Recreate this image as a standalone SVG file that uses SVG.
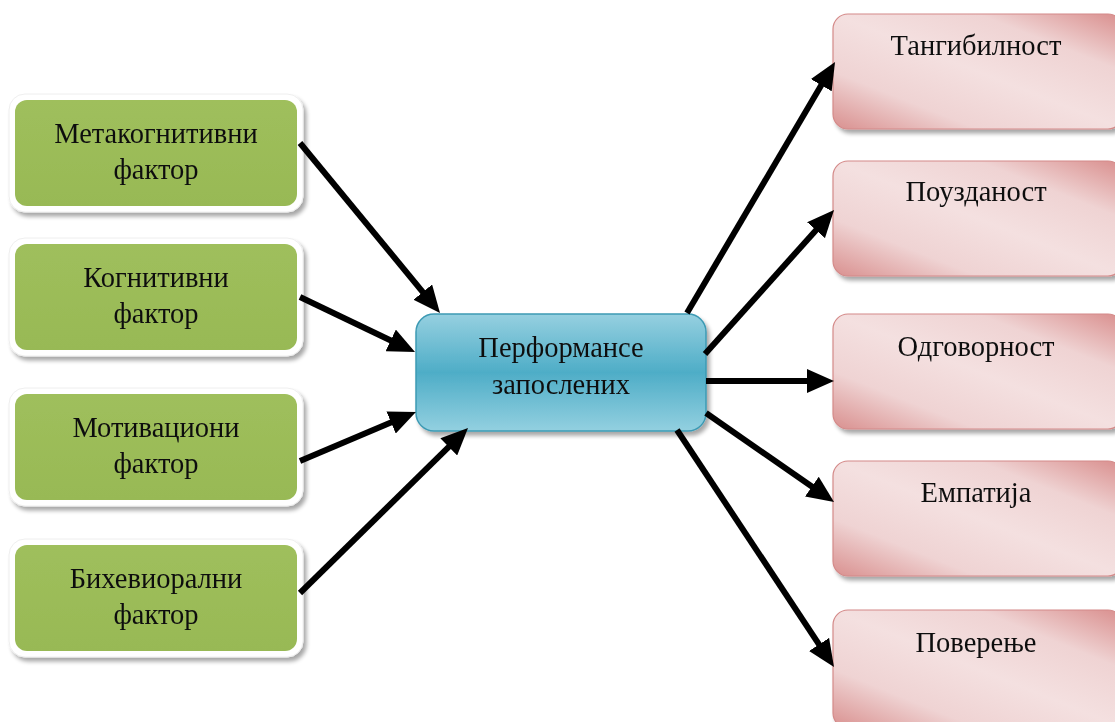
<svg xmlns="http://www.w3.org/2000/svg" width="1115" height="722" viewBox="0 0 1115 722">
  <defs>
    <linearGradient id="gGreen" x1="0" y1="0" x2="0" y2="1">
      <stop offset="0" stop-color="#9fbf5c"/>
      <stop offset="1" stop-color="#98b955"/>
    </linearGradient>
    <linearGradient id="gBlue" x1="0" y1="0" x2="0" y2="1">
      <stop offset="0" stop-color="#96d0e0"/>
      <stop offset="0.5" stop-color="#4eadc7"/>
      <stop offset="1" stop-color="#93d0e0"/>
    </linearGradient>
    <linearGradient id="gPink" x1="0" y1="1" x2="1" y2="0">
      <stop offset="0" stop-color="#d9908f"/>
      <stop offset="0.25" stop-color="#efd3d3"/>
      <stop offset="0.5" stop-color="#f4e0e0"/>
      <stop offset="0.75" stop-color="#efd3d3"/>
      <stop offset="1" stop-color="#d98e8d"/>
    </linearGradient>
    <filter id="shadow" x="-10%" y="-10%" width="125%" height="130%">
      <feGaussianBlur in="SourceAlpha" stdDeviation="2"/>
      <feOffset dx="3" dy="4" result="b"/>
      <feComponentTransfer><feFuncA type="linear" slope="0.35"/></feComponentTransfer>
      <feMerge><feMergeNode/><feMergeNode in="SourceGraphic"/></feMerge>
    </filter>
    <marker id="arrow" markerUnits="userSpaceOnUse" markerWidth="28" markerHeight="24" refX="10" refY="12" orient="auto">
      <path d="M0,0 L27,12 L0,24 z" fill="#000"/>
    </marker>
  </defs>
  <style>
    .frame { fill: #ffffff; stroke: #eeeeee; stroke-width: 1; }
    .green { fill: url(#gGreen); }
    .blue { fill: url(#gBlue); stroke: #3d9ab4; stroke-width: 1.5; }
    .pink { fill: url(#gPink); stroke: #d48a89; stroke-width: 1.2; }
    .lbl { font-family: "Liberation Serif", "Times New Roman", serif; font-size: 28.5px; fill: #111; text-anchor: middle; }
    .conn line { stroke: #000; stroke-width: 6; marker-end: url(#arrow); }
  </style>

  <!-- source factors -->
  <g id="n-metacognitive" filter="url(#shadow)">
    <rect class="frame" x="9" y="94" width="294" height="118" rx="16"/>
    <rect class="green" x="15" y="100" width="282" height="106" rx="12"/>
    <text class="lbl" x="156" y="143">Метакогнитивни</text>
    <text class="lbl" x="156" y="179">фактор</text>
  </g>
  <g id="n-cognitive" filter="url(#shadow)">
    <rect class="frame" x="9" y="238" width="294" height="118" rx="16"/>
    <rect class="green" x="15" y="244" width="282" height="106" rx="12"/>
    <text class="lbl" x="156" y="287">Когнитивни</text>
    <text class="lbl" x="156" y="323">фактор</text>
  </g>
  <g id="n-motivational" filter="url(#shadow)">
    <rect class="frame" x="9" y="388" width="294" height="118" rx="16"/>
    <rect class="green" x="15" y="394" width="282" height="106" rx="12"/>
    <text class="lbl" x="156" y="437">Мотивациони</text>
    <text class="lbl" x="156" y="473">фактор</text>
  </g>
  <g id="n-behavioral" filter="url(#shadow)">
    <rect class="frame" x="9" y="539" width="294" height="118" rx="16"/>
    <rect class="green" x="15" y="545" width="282" height="106" rx="12"/>
    <text class="lbl" x="156" y="588">Бихевиорални</text>
    <text class="lbl" x="156" y="624">фактор</text>
  </g>

  <!-- central node -->
  <g id="n-performance" filter="url(#shadow)">
    <rect class="blue" x="416" y="314" width="290" height="117" rx="18"/>
    <text class="lbl" x="561" y="357">Перформансе</text>
    <text class="lbl" x="561" y="394">запослених</text>
  </g>

  <!-- outcome dimensions -->
  <g id="n-tangibility" filter="url(#shadow)">
    <rect class="pink" x="833" y="14" width="290" height="115" rx="15"/>
    <text class="lbl" x="976" y="55">Тангибилност</text>
  </g>
  <g id="n-reliability" filter="url(#shadow)">
    <rect class="pink" x="833" y="161" width="290" height="115" rx="15"/>
    <text class="lbl" x="976" y="201">Поузданост</text>
  </g>
  <g id="n-responsiveness" filter="url(#shadow)">
    <rect class="pink" x="833" y="314" width="290" height="115" rx="15"/>
    <text class="lbl" x="976" y="356">Одговорност</text>
  </g>
  <g id="n-empathy" filter="url(#shadow)">
    <rect class="pink" x="833" y="461" width="290" height="115" rx="15"/>
    <text class="lbl" x="976" y="502">Емпатија</text>
  </g>
  <g id="n-trust" filter="url(#shadow)">
    <rect class="pink" x="833" y="610" width="290" height="118" rx="15"/>
    <text class="lbl" x="976" y="652">Поверење</text>
  </g>

  <!-- connectors -->
  <g id="connectors" class="conn">
    <line x1="300" y1="143" x2="429.2" y2="299.8"/>
    <line x1="300" y1="297" x2="399.7" y2="344.7"/>
    <line x1="300" y1="461" x2="400.3" y2="418.6"/>
    <line x1="300" y1="593" x2="455.9" y2="439.9"/>
    <line x1="687" y1="313" x2="826.4" y2="76.6"/>
    <line x1="705" y1="354" x2="822.7" y2="222.7"/>
    <line x1="706" y1="381" x2="817" y2="381"/>
    <line x1="706" y1="413" x2="820.1" y2="492.3"/>
    <line x1="677" y1="430" x2="824.6" y2="652.8"/>
  </g>
</svg>
